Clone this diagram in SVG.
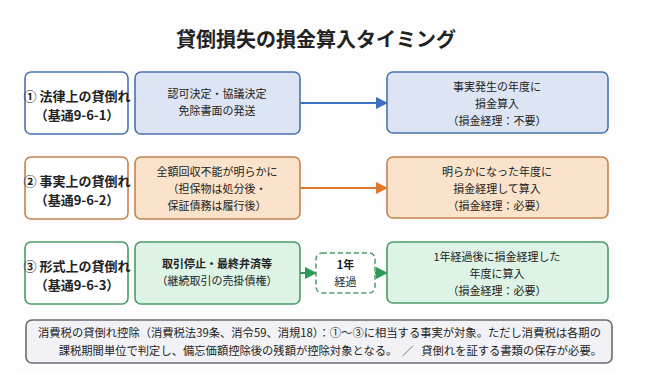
<svg xmlns="http://www.w3.org/2000/svg" width="661" height="391" viewBox="0 0 661 391">
<style>
text{font-family:"Noto Sans CJK JP","Noto Sans",sans-serif;fill:#222}
.title{font-size:20px;font-weight:bold;text-anchor:middle}
.lab{font-size:13px;font-weight:bold;text-anchor:middle}
.t{font-size:11px;text-anchor:middle}
.lbox{fill:#fff;stroke-width:1.6}
.b1{fill:#dde5f5;stroke:#4a72b0;stroke-width:1.6}
.b2{fill:#fbe2cb;stroke:#c4834e;stroke-width:1.6}
.b3{fill:#ddf3e5;stroke:#4c9a68;stroke-width:1.6}
</style>
<defs>
<marker id="a1" markerWidth="12" markerHeight="12" refX="11" refY="6" orient="auto" markerUnits="userSpaceOnUse"><path d="M0,0 L12,6 L0,12 z" fill="#3d6fc2"/></marker>
<marker id="a2" markerWidth="12" markerHeight="12" refX="11" refY="6" orient="auto" markerUnits="userSpaceOnUse"><path d="M0,0 L12,6 L0,12 z" fill="#e0782e"/></marker>
<marker id="a3" markerWidth="12" markerHeight="12" refX="11" refY="6" orient="auto" markerUnits="userSpaceOnUse"><path d="M0,0 L12,6 L0,12 z" fill="#2e9a55"/></marker>
</defs>
<rect x="0" y="0" width="661" height="391" fill="#fff"/>
<rect x="15" y="18" width="600" height="355" fill="#fdfdfd"/>
<text class="title" x="316" y="47">貸倒損失の損金算入タイミング</text>

<g id="connectors">
<line x1="300" y1="103" x2="387" y2="103" stroke="#3d6fc2" stroke-width="2" marker-end="url(#a1)"/>
<line x1="300" y1="188" x2="387" y2="188" stroke="#e0782e" stroke-width="2" marker-end="url(#a2)"/>
<line x1="300" y1="273" x2="316" y2="273" stroke="#2e9a55" stroke-width="2" marker-end="url(#a3)"/>
<line x1="375" y1="273" x2="387" y2="273" stroke="#2e9a55" stroke-width="2" marker-end="url(#a3)"/>
</g>

<g id="label1">
<rect class="lbox" x="25" y="72" width="103" height="62" rx="6" stroke="#4a72b0"/>
<text class="lab" x="77" y="101">① 法律上の貸倒れ</text>
<text class="lab" x="77" y="120">（基通9-6-1）</text>
</g>
<g id="cond1">
<rect class="b1" x="135" y="72" width="165" height="62" rx="6"/>
<text class="t" x="217" y="98">認可決定・協議決定</text>
<text class="t" x="217" y="115">免除書面の発送</text>
</g>
<g id="res1">
<rect class="b1" x="387" y="72" width="221" height="61" rx="6"/>
<text class="t" x="497" y="91">事実発生の年度に</text>
<text class="t" x="497" y="108">損金算入</text>
<text class="t" x="497" y="125">（損金経理：不要）</text>
</g>

<g id="label2">
<rect class="lbox" x="25" y="157" width="103" height="62" rx="6" stroke="#c4834e"/>
<text class="lab" x="77" y="186">② 事実上の貸倒れ</text>
<text class="lab" x="77" y="205">（基通9-6-2）</text>
</g>
<g id="cond2">
<rect class="b2" x="135" y="157" width="165" height="62" rx="6"/>
<text class="t" x="217" y="176">全額回収不能が明らかに</text>
<text class="t" x="217" y="193">（担保物は処分後・</text>
<text class="t" x="217" y="210">保証債務は履行後）</text>
</g>
<g id="res2">
<rect class="b2" x="387" y="157" width="221" height="61" rx="6"/>
<text class="t" x="497" y="176">明らかになった年度に</text>
<text class="t" x="497" y="193">損金経理して算入</text>
<text class="t" x="497" y="210">（損金経理：必要）</text>
</g>

<g id="label3">
<rect class="lbox" x="25" y="242" width="103" height="62" rx="6" stroke="#4c9a68"/>
<text class="lab" x="77" y="271">③ 形式上の貸倒れ</text>
<text class="lab" x="77" y="290">（基通9-6-3）</text>
</g>
<g id="cond3">
<rect class="b3" x="135" y="242" width="165" height="62" rx="6"/>
<text class="t" x="217" y="268" font-weight="bold">取引停止・最終弁済等</text>
<text class="t" x="217" y="285">（継続取引の売掛債権）</text>
</g>
<g id="wait">
<rect x="316" y="253" width="59" height="40" rx="6" fill="#fff" stroke="#4c9a68" stroke-width="1.5" stroke-dasharray="5,3"/>
<text class="t" x="345.5" y="269" font-weight="bold">1年</text>
<text class="t" x="345.5" y="286">経過</text>
</g>
<g id="res3">
<rect class="b3" x="387" y="242" width="221" height="61" rx="6"/>
<text class="t" x="497" y="261">1年経過後に損金経理した</text>
<text class="t" x="497" y="278">年度に算入</text>
<text class="t" x="497" y="295">（損金経理：必要）</text>
</g>

<g id="note">
<rect x="26" y="320" width="586" height="43" rx="6" fill="#f2f2f6" stroke="#6a6a72" stroke-width="1.6"/>
<text x="38" y="337" font-size="11.3">消費税の貸倒れ控除（消費税法39条、消令59、消規18）：①～③に相当する事実が対象。ただし消費税は各期の</text>
<text x="602" y="355" font-size="11.3" text-anchor="end" style="white-space:pre">課税期間単位で判定し、備忘価額控除後の残額が控除対象となる。  ／   貸倒れを証する書類の保存が必要。</text>
</g>
</svg>
